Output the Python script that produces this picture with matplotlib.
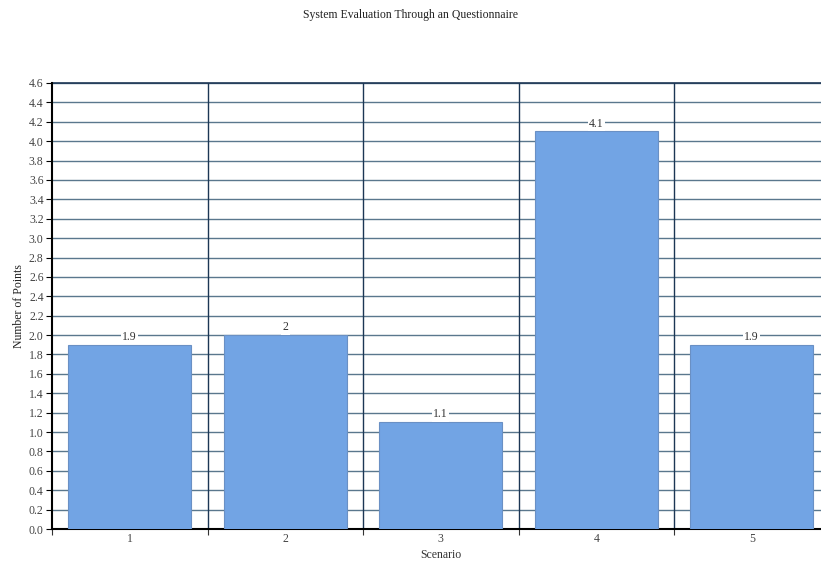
import matplotlib.pyplot as plt
import numpy as np

# data
scenarios = ['1', '2', '3', '4', '5']
points = [1.9, 2.0, 1.1, 4.1, 1.9]
point_labels = ['1.9', '2', '1.1', '4.1', '1.9']

plt.rcParams['font.family'] = ['Liberation Serif', 'DejaVu Serif']

fig = plt.figure(figsize=(8.21, 5.63), dpi=100)
ax = fig.add_axes([52 / 821, 1 - 529 / 563, 777.5 / 821, 446 / 563])

x = np.arange(len(scenarios))
bars = ax.bar(x, points, width=0.79, color='#72a4e4', edgecolor='#6a90c4', linewidth=0.8, zorder=3)

for xi, v, lab in zip(x, points, point_labels):
    ax.text(xi, v + 0.02, lab, ha='center', va='bottom', fontsize=8.5, color='#333333', zorder=4,
            bbox=dict(facecolor='white', edgecolor='none', pad=1.0))

ax.set_xlim(-0.5, len(scenarios) - 0.5)
ax.set_ylim(0, 4.6)
ax.set_yticks(np.arange(0, 4.61, 0.2))
ax.set_yticklabels(['%.1f' % t for t in np.arange(0, 4.61, 0.2)])

# horizontal grid
for t in np.arange(0.2, 4.61, 0.2):
    ax.axhline(t, color='#5a778d', linewidth=1.0, zorder=1)
# vertical lines at category boundaries
for b in np.arange(0.5, len(scenarios) - 0.5, 1):
    ax.axvline(b, color='#1c3654', linewidth=1.0, zorder=1)

ax.set_xticks(np.arange(-0.5, len(scenarios), 1), minor=False)
ax.set_xticklabels([''] * (len(scenarios) + 1))
ax.set_xticks(x, minor=True)
ax.set_xticklabels(scenarios, minor=True)
ax.tick_params(axis='x', which='minor', length=0, pad=3, labelsize=8.5, labelcolor='#444444')
ax.tick_params(axis='x', which='major', length=4, color='#333333')
ax.tick_params(axis='y', length=4, labelsize=8.5, labelcolor='#444444', pad=2)

for s in ['right', 'top']:
    ax.spines[s].set_visible(False)
ax.spines['left'].set_linewidth(1.5)
ax.spines['bottom'].set_linewidth(1.5)
ax.axhline(4.6, color='#1c3654', linewidth=1.2, zorder=1, clip_on=False)

ax.set_xlabel('Scenario', fontsize=8.5, color='#333333', labelpad=3)
ax.set_ylabel('Number of Points', fontsize=8.5, color='#222222', labelpad=3)
fig.text(0.5, 1 - 15 / 563, 'System Evaluation Through an Questionnaire', ha='center', va='center',
         fontsize=8.5, color='#222222')

fig.savefig('out.png', dpi=100)
